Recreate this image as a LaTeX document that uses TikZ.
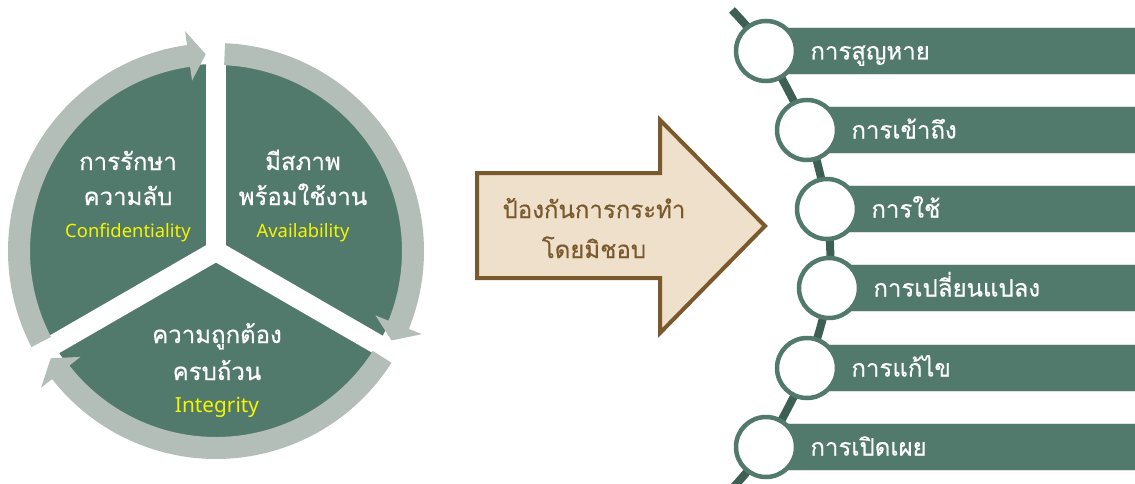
\documentclass[tikz,border=0pt]{standalone}
\usepackage{fontspec}
\newfontfamily\thaifont[Script=Thai, FakeBold=0.5]{Loma}
\newfontfamily\latinfont{Noto Sans}
\usetikzlibrary{positioning,calc}
\definecolor{leaf}{HTML}{527A6C}
\definecolor{spinegreen}{HTML}{3E5F54}
\definecolor{ringgray}{HTML}{B3BEB8}
\definecolor{sand}{HTML}{EEE0CB}
\definecolor{bark}{HTML}{7A5A2C}
\definecolor{lemon}{HTML}{F5F500}
\tikzset{
	ring/.style={fill=ringgray},
	pillar/.style={font=\thaifont\fontsize{24}{24}\selectfont, text=white, anchor=base},
	english/.style={font=\latinfont\fontsize{18.4}{18.4}\selectfont, text=lemon, anchor=base},
	guardtext/.style={font=\thaifont\fontsize{24}{24}\selectfont, text=bark, anchor=base},
	bar/.style={fill=leaf, draw=black!12, line width=0.8},
	dot/.style={circle, fill=white, draw=leaf, line width=4.5, minimum size=60, inner sep=0},
	item/.style={font=\thaifont\fontsize{24}{24}\selectfont, text=white, inner sep=0, text height=18, text depth=1}
}

\begin{document}
\begin{tikzpicture}[x=1pt, y=1pt]
	\useasboundingbox (0,0) rectangle (1135,483);
	% the three pillars
	\begin{scope}[shift={(216,232)}]
		\fill[leaf] (0,0) circle[radius=187];
		\foreach \a in {90,-30,210}
			\draw[white, line width=20] (0,0) -- (\a:190);
		\foreach \s in {87.5,-32.5,-152.5} {
			\pgfmathsetmacro\e{\s-114.5}
			\pgfmathsetmacro\b{\e+5}
			\fill[ring] (\s:208) arc[start angle=\s, end angle=\b, radius=208]
				-- (\b:222) -- (\e:197) -- (\b:172) -- (\b:186)
				arc[start angle=\b, end angle=\s, radius=186] -- cycle;
		}
	\end{scope}
	\node[pillar] (secret) at (128,313) {การรักษา};
	\node[pillar] (secret2) at (128,278) {ความลับ};
	\node[english] (secreten) at (128,246) {Confidentiality};
	\node[pillar] (ready) at (303,313) {มีสภาพ};
	\node[pillar] (ready2) at (303,278) {พร้อมใช้งาน};
	\node[english] (readyen) at (303,246) {Availability};
	\node[pillar] (whole) at (217,140) {ความถูกต้อง};
	\node[pillar] (whole2) at (217,103) {ครบถ้วน};
	\node[english, font=\latinfont\fontsize{20.8}{20.8}\selectfont] (wholeen) at (217,71) {Integrity};

	% the big arrow
	\draw[bark, fill=sand, line width=4, line join=miter]
		(477,310) -- (660,310) -- (660,363) -- (765,257) -- (660,150) -- (660,205) -- (477,205) -- cycle;
	\node[guardtext] (guard) at (594,265) {ป้องกันการกระทำ};
	\node[guardtext] (guard2) at (594,225) {โดยมิชอบ};

	% threats
	\coordinate (p0) at (732,473);
	\coordinate (p7) at (730,-8);
	\foreach \cx/\cy [count=\i] in {766/432, 807/353, 827/274, 829/195, 807/115, 766/36}
		\coordinate (p\i) at (\cx,\cy);
	\draw[spinegreen, line width=8] plot[smooth, tension=0.5] coordinates {(p0) (p1) (p2) (p3) (p4) (p5) (p6) (p7)};
	\foreach \txt [count=\i] in {การสูญหาย, การเข้าถึง, การใช้, การเปลี่ยนแปลง, การแก้ไข, การเปิดเผย} {
		\fill[bar] (p\i) ++(0,-23.5) rectangle ++(420,47);
		\node[dot] (c\i) at (p\i) {};
		\node[item, right=12pt of c\i] (t\i) {\txt};
	}
\end{tikzpicture}
\end{document}
